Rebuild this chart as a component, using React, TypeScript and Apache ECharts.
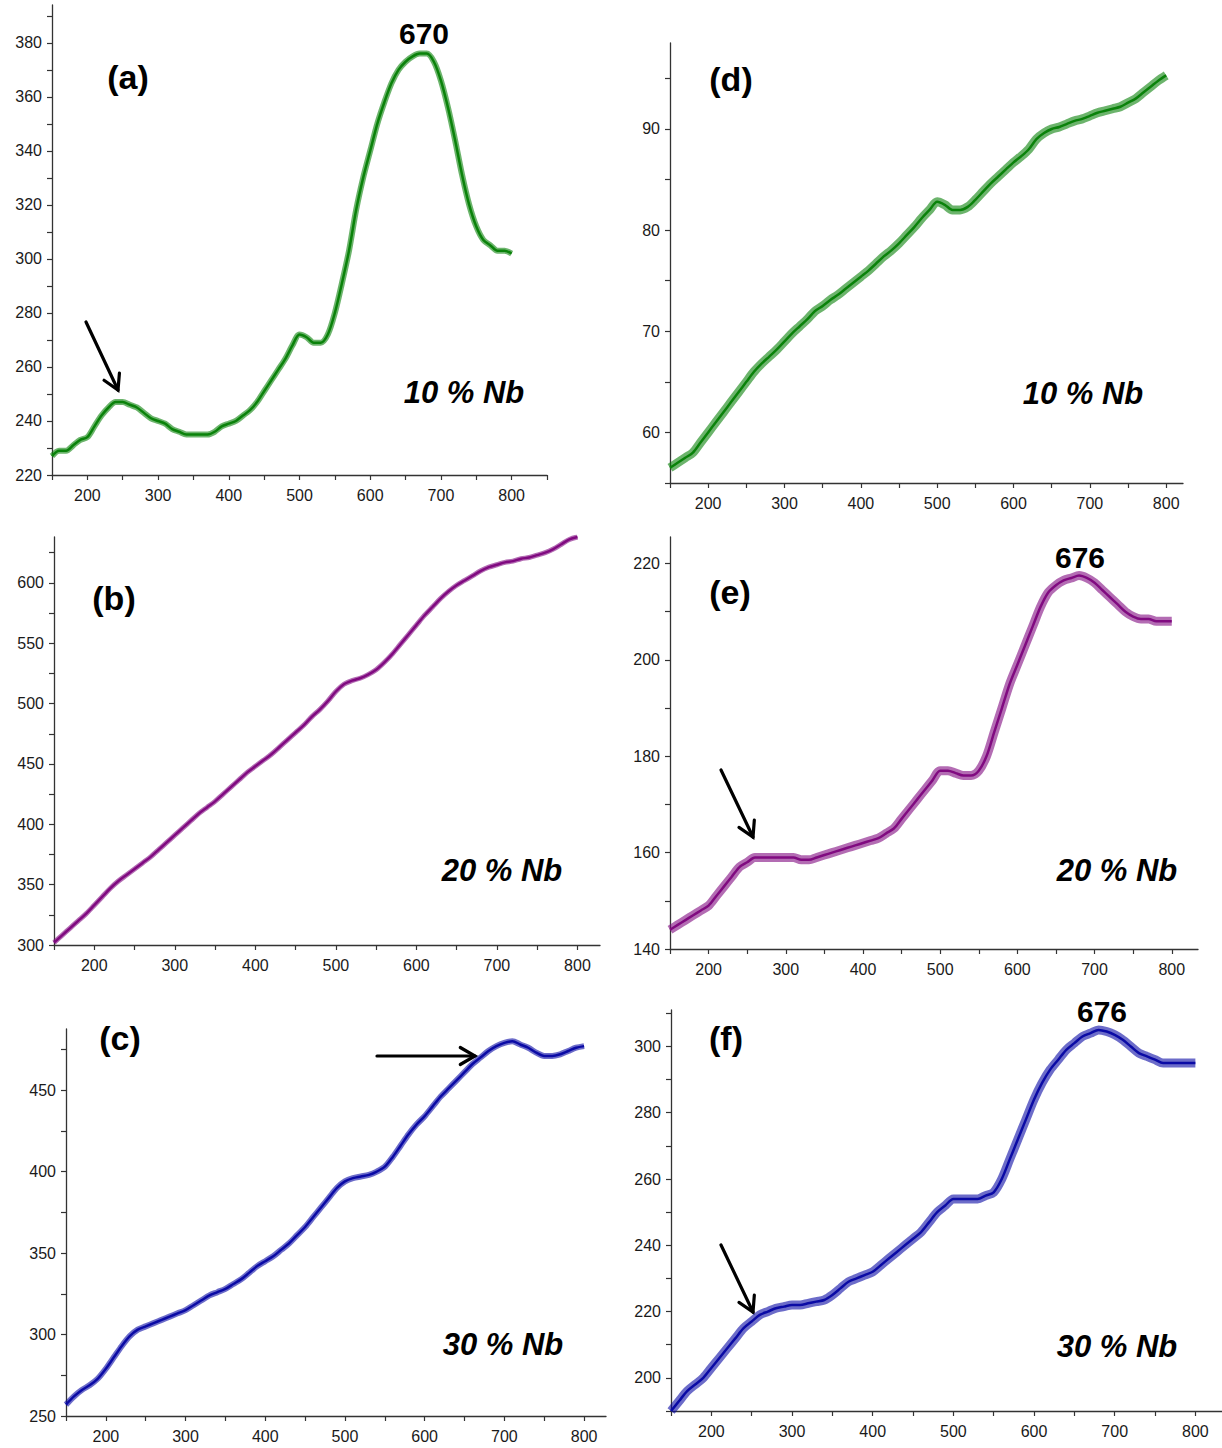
import { useEffect, useRef } from "react";
import * as echarts from "echarts";

// Wavelength (nm) sampled every 10 nm
const wavelength = [
  150, 160, 170, 180, 190, 200, 210, 220, 230, 240,
  250, 260, 270, 280, 290, 300, 310, 320, 330, 340,
  350, 360, 370, 380, 390, 400, 410, 420, 430, 440,
  450, 460, 470, 480, 490, 500, 510, 520, 530, 540,
  550, 560, 570, 580, 590, 600, 610, 620, 630, 640,
  650, 660, 670, 680, 690, 700, 710, 720, 730, 740,
  750, 760, 770, 780, 790, 800,
];

// (a) 10 % Nb
const specA = [
  227, 229, 229, 231, 233, 234, 238, 242, 245, 247,
  247, 246, 245, 243, 241, 240, 239, 237, 236, 235,
  235, 235, 235, 236, 238, 239, 240, 242, 244, 247,
  251, 255, 259, 263, 268, 272, 271, 269, 269, 272,
  280, 291, 303, 318, 330, 340, 350, 358, 365, 370,
  373, 375, 376, 376, 373, 366, 356, 344, 331, 320,
  312, 307, 305, 303, 303, 302,
];

// (d) 10 % Nb
const specD = [
  56.5, 57, 57.5, 58, 59, 60, 61, 62, 63, 64,
  65, 66, 66.8, 67.5, 68.2, 69, 69.8, 70.5, 71.2, 72,
  72.5, 73.1, 73.6, 74.2, 74.8, 75.4, 76, 76.7, 77.4, 78,
  78.7, 79.5, 80.3, 81.2, 82, 82.8, 82.5, 82, 82, 82.3,
  83, 83.8, 84.6, 85.3, 86, 86.7, 87.3, 88, 89, 89.6,
  90, 90.2, 90.5, 90.8, 91, 91.3, 91.6, 91.8, 92, 92.2,
  92.6, 93, 93.6, 94.2, 94.8, 95.3,
];

// (b) 20 % Nb
const specB = [
  302, 308, 314, 320, 326, 333, 340, 347, 353, 358,
  363, 368, 373, 379, 385, 391, 397, 403, 409, 414,
  419, 425, 431, 437, 443, 448, 453, 458, 464, 470,
  476, 482, 489, 495, 502, 510, 516, 519, 521, 524,
  528, 534, 541, 549, 557, 565, 573, 580, 587, 593,
  598, 602, 606, 610, 613, 615, 617, 618, 620, 621,
  623, 625, 628, 632, 636, 638,
];

// (e) 20 % Nb
const specE = [
  144, 145, 146, 147, 148, 149, 151, 153, 155, 157,
  158, 159, 159, 159, 159, 159, 159, 158.5, 158.5, 159,
  159.5, 160, 160.5, 161, 161.5, 162, 162.5, 163, 164, 165,
  167, 169, 171, 173, 175, 177, 177, 176.5, 176, 176,
  177, 180, 185, 190, 195, 199, 203, 207, 211, 214,
  215.5, 216.5, 217, 217.5, 217, 216, 214.5, 213, 211.5, 210,
  209, 208.5, 208.5, 208, 208, 208,
];

// (c) 30 % Nb
const specC = [
  257, 262, 266, 269, 273, 279, 286, 293, 299, 303,
  305, 307, 309, 311, 313, 315, 318, 321, 324, 326,
  328, 331, 334, 338, 342, 345, 348, 352, 356, 361,
  366, 372, 378, 384, 390, 394, 396, 397, 398, 400,
  403, 409, 416, 423, 429, 434, 440, 446, 451, 456,
  461, 466, 470, 474, 477, 479, 480, 478, 476, 473,
  471, 471, 472, 474, 476, 477,
];

// (f) 30 % Nb
const specF = [
  190, 193, 196, 198, 200, 203, 206, 209, 212, 215,
  217, 219, 220, 221, 221.5, 222, 222, 222.5, 223, 223.5,
  225, 227, 229, 230, 231, 232, 234, 236, 238, 240,
  242, 244, 247, 250, 252, 254, 254, 254, 254, 255,
  256, 260, 266, 272, 278, 284, 289, 293, 296, 299,
  301, 303, 304, 305, 304.5, 303.5, 302, 300, 298, 297,
  296, 295, 295, 295, 295, 295,
];

// Axis ticks and labels
const xTicks = [150, 200, 250, 300, 350, 400, 450, 500, 550, 600, 650, 700, 750, 800, 850];
const xLabels = [200, 300, 400, 500, 600, 700, 800];

const yTicksA = [220, 230, 240, 250, 260, 270, 280, 290, 300, 310, 320, 330, 340, 350, 360, 370, 380, 390];
const yLabelsA = [220, 240, 260, 280, 300, 320, 340, 360, 380];
const yTicksD = [55, 60, 65, 70, 75, 80, 85, 90, 95];
const yLabelsD = [60, 70, 80, 90];
const yTicksB = [300, 325, 350, 375, 400, 425, 450, 475, 500, 525, 550, 575, 600, 625];
const yLabelsB = [300, 350, 400, 450, 500, 550, 600];
const yTicksE = [140, 150, 160, 170, 180, 190, 200, 210, 220];
const yLabelsE = [140, 160, 180, 200, 220];
const yTicksC = [250, 275, 300, 325, 350, 375, 400, 425, 450, 475];
const yLabelsC = [250, 300, 350, 400, 450];
const yTicksF = [190, 200, 210, 220, 230, 240, 250, 260, 270, 280, 290, 300, 310];
const yLabelsF = [200, 220, 240, 260, 280, 300];

const GREEN = "#0a820a";
const PURPLE = "#800a80";
const BLUE = "#0a0aa5";
const FONT = '"Liberation Sans", Arial, sans-serif';

type Panel = {
  data: number[];
  color: string;
  fuzz: number;
  grid: { left: number; top: number; width: number; height: number };
  xMax: number;
  yMin: number;
  yMax: number;
  yTicks: number[];
  yLabels: number[];
};

const panels: Panel[] = [
  { data: specA, color: GREEN, fuzz: 6, grid: { left: 52, top: 5, width: 495, height: 470 }, xMax: 850, yMin: 220, yMax: 394, yTicks: yTicksA, yLabels: yLabelsA },
  { data: specD, color: GREEN, fuzz: 9, grid: { left: 670, top: 43, width: 513, height: 440 }, xMax: 822, yMin: 55, yMax: 98.5, yTicks: yTicksD, yLabels: yLabelsD },
  { data: specB, color: PURPLE, fuzz: 5, grid: { left: 54, top: 537, width: 546, height: 408 }, xMax: 828, yMin: 300, yMax: 638, yTicks: yTicksB, yLabels: yLabelsB },
  { data: specE, color: PURPLE, fuzz: 9, grid: { left: 670, top: 537, width: 528, height: 412 }, xMax: 834, yMin: 140, yMax: 225.5, yTicks: yTicksE, yLabels: yLabelsE },
  { data: specC, color: BLUE, fuzz: 6, grid: { left: 66, top: 1029, width: 540, height: 387 }, xMax: 827.5, yMin: 250, yMax: 487.5, yTicks: yTicksC, yLabels: yLabelsC },
  { data: specF, color: BLUE, fuzz: 9, grid: { left: 671, top: 1010, width: 551, height: 401 }, xMax: 833, yMin: 190, yMax: 311, yTicks: yTicksF, yLabels: yLabelsF },
];

const axisLine = { show: true, onZero: false, lineStyle: { color: "#333", width: 1.3 } };

function label(text: string, x: number, y: number, font: string) {
  return {
    type: "text",
    x,
    y,
    style: { text, font, fill: "#000", align: "center", verticalAlign: "middle", textAlign: "center", textVerticalAlign: "middle" },
    z: 100,
  };
}

// Straight arrow with an open chevron head at (x2, y2)
function arrow(x1: number, y1: number, x2: number, y2: number) {
  const ang = Math.atan2(y2 - y1, x2 - x1);
  const len = 17;
  const spread = Math.PI / 6;
  const p1 = [x2 - len * Math.cos(ang - spread), y2 - len * Math.sin(ang - spread)];
  const p2 = [x2 - len * Math.cos(ang + spread), y2 - len * Math.sin(ang + spread)];
  const style = { stroke: "#000", lineWidth: 3.2, fill: "none", lineCap: "round", lineJoin: "miter" };
  return {
    type: "group",
    z: 100,
    children: [
      { type: "line", shape: { x1, y1, x2, y2 }, style },
      { type: "polyline", shape: { points: [p1, [x2, y2], p2] }, style },
    ],
  };
}

export default function App() {
  const ref = useRef<HTMLDivElement>(null);

  useEffect(() => {
    if (!ref.current) return;
    const chart = echarts.init(ref.current, null, { renderer: "svg" });

    const grids = panels.map((p) => ({ ...p.grid, containLabel: false }));
    const xAxes = panels.map((p, i) => ({
      type: "value",
      gridIndex: i,
      min: 150,
      max: p.xMax,
      axisLine,
      splitLine: { show: false },
      axisTick: { show: true, length: 5, customValues: xTicks.filter((v) => v <= p.xMax), lineStyle: { color: "#333", width: 1.2 } },
      axisLabel: { customValues: xLabels, margin: 12, color: "#1a1a1a", fontSize: 16, fontFamily: FONT },
    }));
    const yAxes = panels.map((p, i) => ({
      type: "value",
      gridIndex: i,
      min: p.yMin,
      max: p.yMax,
      axisLine,
      splitLine: { show: false },
      axisTick: { show: true, length: 5, customValues: p.yTicks, lineStyle: { color: "#333", width: 1.2 } },
      axisLabel: { customValues: p.yLabels, margin: 10, color: "#1a1a1a", fontSize: 16, fontFamily: FONT },
    }));

    // Each spectrum: a wide band for the measurement scatter, then the trace on top
    const series: any[] = [];
    panels.forEach((p, i) => {
      const pts = wavelength.map((w, k) => [w, p.data[k]]);
      series.push({
        type: "line",
        xAxisIndex: i,
        yAxisIndex: i,
        symbol: "none",
        smooth: 0.3,
        silent: true,
        z: 1,
        data: pts,
        lineStyle: { color: p.color, width: p.fuzz, opacity: 0.6 },
      });
      series.push({
        type: "line",
        xAxisIndex: i,
        yAxisIndex: i,
        symbol: "none",
        smooth: 0.3,
        z: 2,
        data: pts,
        lineStyle: { color: p.color, width: 2.5 },
        itemStyle: { color: p.color },
      });
    });

    const tagFont = `bold 34px ${FONT}`;
    const peakFont = `bold 30px ${FONT}`;
    const nbFont = `italic bold 31px ${FONT}`;

    chart.setOption({
      animation: false,
      grid: grids,
      xAxis: xAxes,
      yAxis: yAxes,
      series,
      graphic: [
        label("(a)", 128, 77, tagFont),
        label("(d)", 731, 79, tagFont),
        label("(b)", 114, 598, tagFont),
        label("(e)", 730, 592, tagFont),
        label("(c)", 120, 1038, tagFont),
        label("(f)", 726, 1038, tagFont),
        label("670", 424, 33, peakFont),
        label("676", 1080, 557, peakFont),
        label("676", 1102, 1011, peakFont),
        label("10 % Nb", 464, 392, nbFont),
        label("10 % Nb", 1083, 393, nbFont),
        label("20 % Nb", 502, 870, nbFont),
        label("20 % Nb", 1117, 870, nbFont),
        label("30 % Nb", 503, 1344, nbFont),
        label("30 % Nb", 1117, 1346, nbFont),
        arrow(86, 322, 118, 390),
        arrow(721, 770, 753, 837),
        arrow(721, 1245, 753, 1312),
        arrow(377, 1056, 475, 1056),
      ],
    });

    return () => chart.dispose();
  }, []);

  return (
    <div
      ref={ref}
      style={{ position: "absolute", left: 0, top: 0, width: 1222, height: 1448 }}
    />
  );
}
